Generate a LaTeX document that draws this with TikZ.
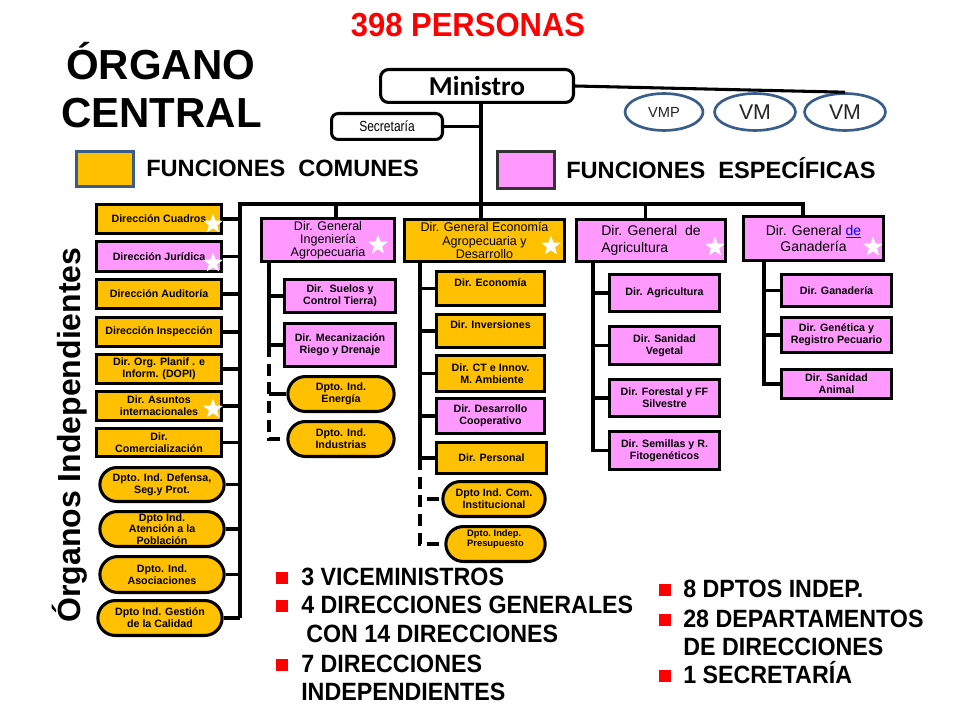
\documentclass[tikz,border=0pt]{standalone}
\usepackage{fontspec}
\setmainfont{Liberation Sans}
\newfontfamily\condf[FakeStretch=0.93]{Liberation Sans}
\newfontfamily\narrf[FakeStretch=0.82]{Liberation Sans}
\newfontfamily\calf{Carlito}
\usetikzlibrary{shapes.geometric,shapes.misc,calc}
\definecolor{orng}{HTML}{FFC000}
\definecolor{pnk}{HTML}{FF99FF}
\definecolor{elb}{HTML}{385D8A}
\definecolor{bred}{HTML}{FF0000}
\definecolor{linkb}{HTML}{0000FF}
\begin{document}
\begin{tikzpicture}[x=0.75pt,y=-0.75pt,
  lw/.style={line width=2.3pt},
  wh/.style 2 args={minimum width=#1*0.75pt-2.3pt, minimum height=#2*0.75pt-2.3pt},
  bbase/.style={draw=black, lw, inner sep=1pt, align=center, font=\fontsize{8pt}{8.8pt}\selectfont\bfseries},
  ob/.style={bbase, rectangle, fill=orng},
  pb/.style={bbase, rectangle, fill=pnk},
  os/.style={bbase, rounded rectangle, fill=orng},
  gen/.style={draw, lw, rectangle, inner sep=1pt, align=center, font=\fontsize{9.4pt}{9.9pt}\selectfont},
  genb/.style={draw, lw, rectangle, inner sep=1pt, align=center, font=\fontsize{10.5pt}{12.5pt}\selectfont},
  wstar/.style={star, star points=5, star point ratio=2.4, fill=white, draw=none, minimum size=15.5pt, inner sep=0pt},
  conn/.style={draw=black, lw},
  dconn/.style={conn, dash pattern=on 9pt off 5pt},
  bul/.style={fill=bred, draw=none, minimum size=9pt, inner sep=0pt},
  btxt/.style={anchor=base west, inner sep=0pt, font=\fontsize{18.75pt}{20pt}\condf\bfseries},
  vell/.style={ellipse, draw=elb, line width=2pt, inner sep=0pt, text=black!85},
]
\fill[white] (0,0) rectangle (960,720);
\useasboundingbox (0,0) rectangle (960,720);

% titles
\node[anchor=base, inner sep=0pt, text=bred, font=\fontsize{25pt}{25pt}\condf\bfseries] (ttl) at (468,37) {398 PERSONAS};
\node[anchor=base west, inner sep=0pt, font=\fontsize{31.5pt}{32pt}\selectfont\bfseries] (org1) at (66,80) {ÓRGANO};
\node[anchor=base west, inner sep=0pt, font=\fontsize{31.5pt}{32pt}\selectfont\bfseries] (org2) at (61,128) {CENTRAL};

% legend
\node[draw=elb, line width=1.6pt, fill=orng, wh={60}{38}] (lgo) at (105,169) {};
\node[anchor=base west, inner sep=0pt, font=\fontsize{17.7pt}{18pt}\selectfont\bfseries] (lgot) at (146,177) {FUNCIONES\ \ COMUNES};
\node[draw=black!80, line width=1.6pt, fill=pnk, wh={60}{40}] (lgp) at (526,170) {};
\node[anchor=base west, inner sep=0pt, font=\fontsize{17.7pt}{18pt}\selectfont\bfseries] (lgpt) at (566,179) {FUNCIONES\ \ ESPECÍFICAS};

% top
\node[draw, lw, rounded corners=6pt, fill=white, wh={196}{36}, font=\fontsize{20.5pt}{20.5pt}\calf\bfseries] (min) at (477,86) {Ministro};
\node[draw, lw, rounded corners=5pt, fill=white, wh={114}{29}, font=\fontsize{11pt}{11pt}\narrf] (sec) at (387,126.5) {Secretaría};
\node[vell, wh={81}{40}, font=\fontsize{11pt}{11pt}\selectfont] (vmp) at (664,112) {VMP};
\node[vell, wh={84}{40}, font=\fontsize{16pt}{16pt}\selectfont] (vm1) at (755,112) {VM};
\node[vell, wh={84}{40}, font=\fontsize{16pt}{16pt}\selectfont] (vm2) at (845,112) {VM};

% vertical label
\node[rotate=90, anchor=base, inner sep=0pt, font=\fontsize{24pt}{24pt}\selectfont\bfseries] (oi) at (80,435) {Órganos Independientes};

% left column
\node[ob, wh={128}{32}] (c1) at (159,219) {Dirección Cuadros};
\node[pb, wh={128}{33}] (c2) at (159,256.5) {Dirección Jurídica};
\node[ob, wh={128}{32}] (c3) at (159,294) {Dirección Auditoría};
\node[ob, wh={128}{32}] (c4) at (159,332) {Dirección Inspección};
\node[ob, wh={128}{32}] (c5) at (159,369) {Dir. Org. Planif . e\\Inform. (DOPI)};
\node[ob, wh={128}{32}] (c6) at (159,406) {Dir. Asuntos\\internacionales};
\node[ob, wh={128}{31}] (c7) at (159,442.5) {Dir.\\Comercialización};
\node[os, wh={130}{37}] (c8) at (162,484.5) {Dpto. Ind. Defensa,\\Seg.y Prot.};
\node[os, wh={130}{38}] (c9) at (162,529) {Dpto Ind.\\Atención a la\\Población};
\node[os, wh={130}{39}] (c10) at (162,574.5) {Dpto. Ind.\\Asociaciones};
\node[os, wh={130}{38}] (c11) at (160,618) {Dpto Ind. Gestión\\de la Calidad};

% direcciones generales
\node[gen, fill=pnk, wh={136}{46}] (ing) at (328,240) {Dir. General\\Ingeniería\\Agropecuaria};
\node[gen, fill=orng, wh={163}{45}] (eco) at (484.5,240.5) {Dir. General Economía\\Agropecuaria y\\Desarrollo};
\node[genb, fill=pnk, wh={152}{45}, align=left] (agr) at (651,240.5) {Dir. General\ \ de\\Agricultura};
\node[genb, fill=pnk, wh={143}{47}] (gan) at (813.5,238.5) {Dir. General \textcolor{linkb}{\underline{de}}\\Ganadería};

% ingenieria
\node[pb, wh={114}{36}] (s1) at (340,296) {Dir.\ \ Suelos y\\Control Tierra)};
\node[pb, wh={114}{46}] (s2) at (340,345) {Dir. Mecanización\\Riego y Drenaje};
\node[os, wh={112}{38}] (s3) at (341,394) {Dpto. Ind.\\Energía};
\node[os, wh={112}{38}] (s4) at (341,439) {Dpto. Ind.\\Industrias};

% economia
\node[ob, wh={111}{37}] (e1) at (490.5,288.5) {Dir. Economía\\\mbox{}};
\node[ob, wh={111}{36}] (e2) at (490.5,331) {Dir. Inversiones\\\mbox{}};
\node[ob, wh={111}{39}] (e3) at (490.5,373.5) {Dir. CT e Innov.\\\ M. Ambiente};
\node[pb, wh={111}{38}] (e4) at (490.5,416) {Dir. Desarrollo\\Cooperativo};
\node[ob, wh={113}{34}] (e5) at (491.5,458) {Dir. Personal};
\node[os, wh={108}{38}] (e6) at (494,499) {Dpto Ind. Com.\\Institucional};
\node[os, wh={105}{38}, align=left, font=\fontsize{7pt}{8pt}\selectfont\bfseries] (e7) at (495.5,544) {Dpto.\ Indep.\\Presupuesto\\[1pt]};

% agricultura
\node[pb, wh={113}{40}] (a1) at (664.5,293) {Dir. Agricultura};
\node[pb, wh={113}{41}] (a2) at (664.5,345.5) {Dir. Sanidad\\Vegetal};
\node[pb, wh={113}{40}] (a3) at (664.5,398) {Dir. Forestal y FF\\Silvestre};
\node[pb, wh={113}{41}] (a4) at (664.5,450.5) {Dir. Semillas y R.\\Fitogenéticos};

% ganaderia
\node[pb, wh={113}{35}] (g1) at (836.5,290.5) {Dir. Ganadería};
\node[pb, wh={113}{38}] (g2) at (836.5,335) {Dir. Genética y\\Registro Pecuario};
\node[pb, wh={113}{32}] (g3) at (836.5,384) {Dir. Sanidad\\Animal};

% connector coordinates
\coordinate (bL) at (240,204);
\coordinate (bR) at (803,204);
\coordinate (mx) at (481,204);
\coordinate (dI) at (336,204);
\coordinate (dA) at (645.5,204);
\coordinate (vI) at (269,263);
\coordinate (vE) at (420,263);
\coordinate (vA) at (593,263);
\coordinate (vG) at (764,262);

% top connectors
\draw[conn] (min.east) -- (vm2.north);
\draw[conn] (min.south -| mx) -- (mx |- eco.north);
\draw[conn] (sec.east) -- (sec.east -| mx);
\draw[conn] (c11.east -| bL) -- (bL) -- (bR) -- (bR |- gan.north);
\draw[conn] (dI) -- (dI |- ing.north);
\draw[conn] (dA) -- (dA |- agr.north);
\foreach \n in {c1,c2,c3,c4,c5,c6,c7,c8,c9,c10,c11} \draw[conn] (\n.east) -- (\n.east -| bL);

% ingenieria connectors
\draw[conn] (ing.south -| vI) -- (vI |- s2.west) -- (s2.west);
\draw[conn] (s1.west -| vI) -- (s1.west);
\draw[dconn] (vI |- s2.west) -- (vI |- s4.west) -- (s4.west);
\draw[conn] (s3.west -| vI) -- (s3.west);

% economia connectors
\draw[conn] (eco.south -| vE) -- (vE |- e5.west) -- (e5.west);
\foreach \n in {e1,e2,e3,e4} \draw[conn] (\n.west -| vE) -- (\n.west);
\draw[dconn] (vE |- e5.west) -- (vE |- e7.west) -- (e7.west);
\draw[dconn, dash phase=9pt] (e6.west -| vE) -- (e6.west);

% agricultura connectors
\draw[conn] (agr.south -| vA) -- (vA |- a4.west) -- (a4.west);
\foreach \n in {a1,a2,a3} \draw[conn] (\n.west -| vA) -- (\n.west);

% ganaderia connectors
\draw[conn] (gan.south -| vG) -- (vG |- g3.west) -- (g3.west);
\foreach \n in {g1,g2} \draw[conn] (\n.west -| vG) -- (\n.west);

% stars
\node[wstar] (st1) at (213,224) {};
\node[wstar] (st2) at (213,263) {};
\node[wstar] (st3) at (213,409) {};
\node[wstar] (st4) at (378,245) {};
\node[wstar] (st5) at (551,246) {};
\node[wstar] (st6) at (715,247) {};
\node[wstar] (st7) at (873,247) {};

% bottom summary
\node[bul] (b1) at (281.5,578) {};
\node[btxt] (t1) at (301,585) {3 VICEMINISTROS};
\node[bul] (b2) at (281.5,606) {};
\node[btxt] (t2) at (301,613) {4 DIRECCIONES GENERALES};
\node[btxt] (t3) at (306,642) {CON 14 DIRECCIONES};
\node[bul] (b3) at (281.5,665) {};
\node[btxt] (t4) at (301,672) {7 DIRECCIONES};
\node[btxt] (t5) at (301,700) {INDEPENDIENTES};
\node[bul] (b4) at (665,590) {};
\node[btxt] (t6) at (683,597) {8 DPTOS INDEP.};
\node[bul] (b5) at (665,620) {};
\node[btxt] (t7) at (683,627) {28 DEPARTAMENTOS};
\node[btxt] (t8) at (683,655) {DE DIRECCIONES};
\node[bul] (b6) at (665,676) {};
\node[btxt] (t9) at (683,683) {1 SECRETARÍA};
\end{tikzpicture}
\end{document}
